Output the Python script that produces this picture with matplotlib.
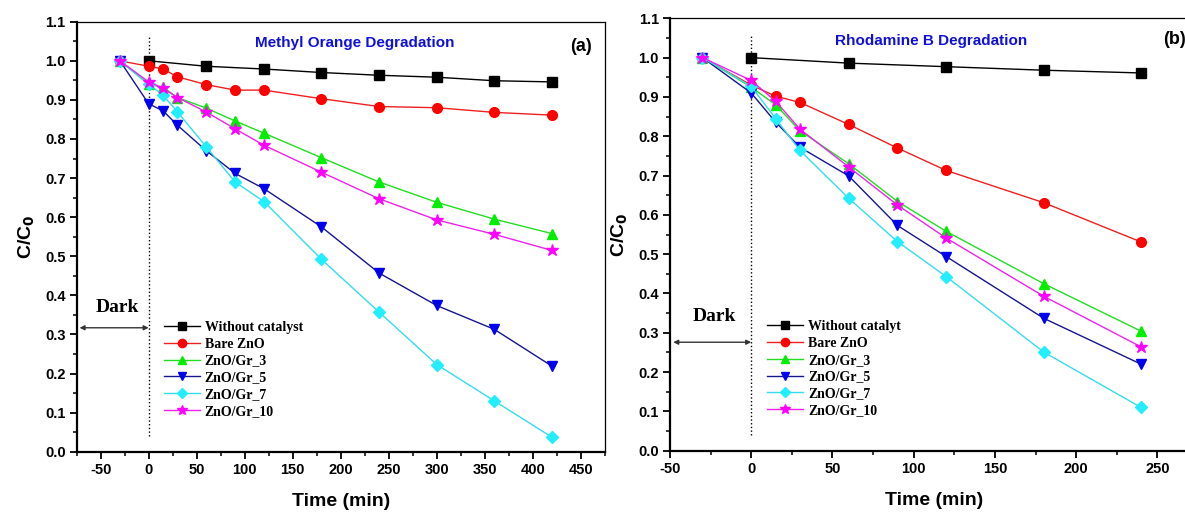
import matplotlib
matplotlib.use("Agg")
import matplotlib.pyplot as plt
from matplotlib.ticker import MultipleLocator

plt.rcParams["axes.unicode_minus"] = False

# ---- data: Methyl Orange (a) ----
t_mo = [-30, 0, 15, 30, 60, 90, 120, 180, 240, 300, 360, 420]
t_mo_blank = [0, 60, 120, 180, 240, 300, 360, 420]
mo_blank = [1.0, 0.986, 0.979, 0.970, 0.963, 0.958, 0.949, 0.946]
mo_zno = [1.0, 0.986, 0.979, 0.959, 0.939, 0.925, 0.925, 0.903, 0.883, 0.880, 0.868, 0.861]
mo_gr3 = [1.0, 0.940, 0.932, 0.906, 0.879, 0.846, 0.815, 0.752, 0.690, 0.638, 0.595, 0.558]
mo_gr5 = [1.0, 0.890, 0.872, 0.835, 0.770, 0.712, 0.673, 0.575, 0.457, 0.374, 0.313, 0.219]
mo_gr7 = [1.0, 0.940, 0.912, 0.869, 0.780, 0.690, 0.640, 0.492, 0.357, 0.223, 0.130, 0.037]
mo_gr10 = [1.0, 0.946, 0.930, 0.906, 0.869, 0.826, 0.784, 0.715, 0.647, 0.593, 0.556, 0.515]

# ---- data: Rhodamine B (b) ----
t_rb = [-30, 0, 15, 30, 60, 90, 120, 180, 240]
t_rb_blank = [0, 60, 120, 180, 240]
rb_blank = [1.0, 0.986, 0.977, 0.968, 0.961]
rb_zno = [1.0, 0.930, 0.902, 0.886, 0.830, 0.770, 0.713, 0.631, 0.531]
rb_gr3 = [1.0, 0.925, 0.880, 0.814, 0.730, 0.634, 0.558, 0.425, 0.304]
rb_gr5 = [1.0, 0.910, 0.836, 0.772, 0.699, 0.573, 0.494, 0.337, 0.220]
rb_gr7 = [1.0, 0.927, 0.845, 0.764, 0.642, 0.532, 0.443, 0.251, 0.110]
rb_gr10 = [1.0, 0.942, 0.889, 0.818, 0.722, 0.625, 0.541, 0.393, 0.264]

labels = ["Bare ZnO", "ZnO/Gr_3", "ZnO/Gr_5", "ZnO/Gr_7", "ZnO/Gr_10"]
markers = ["o", "^", "v", "D", "*"]
mcolors = ["#ff0000", "#00ee00", "#0000ee", "#22eeff", "#ff00ff"]
lcolors = ["#ee2020", "#22dd22", "#151590", "#33ddee", "#ee22ee"]
msizes = [7, 7.5, 7.5, 6, 9]

SANS = "Liberation Sans"
SERIF = "Liberation Serif"

fig = plt.figure(figsize=(11.85, 5.12), dpi=100)
axA = fig.add_axes([0.0647, 0.1178, 0.4456, 0.8398])
axB = fig.add_axes([0.5654, 0.1197, 0.4456, 0.8445])


def draw(ax, t, tb, blank, series, blank_label, xlim, title, tag,
         title_pos, tag_pos, leg_pos, dark_x, dark_y, arrow_x0, arrow_y):
    ax.plot(tb, blank, color="black", lw=1.0, marker="s", ms=6.5,
            label=blank_label, zorder=3)
    for y, lab, m, mc, lc, ms in zip(series, labels, markers, mcolors, lcolors, msizes):
        ax.plot(t, y, color=lc, lw=1.0, marker=m, ms=ms, mfc=mc, mec=mc,
                label=lab, zorder=3)
    ax.set_xlim(*xlim)
    ax.set_ylim(0, 1.1)
    ax.xaxis.set_major_locator(MultipleLocator(50))
    ax.xaxis.set_minor_locator(MultipleLocator(25))
    ax.yaxis.set_major_locator(MultipleLocator(0.1))
    ax.yaxis.set_minor_locator(MultipleLocator(0.05))
    ax.yaxis.set_major_formatter(plt.FormatStrFormatter("%.1f"))
    ax.tick_params(which="major", direction="out", length=5, width=1.3,
                   labelsize=10.5, pad=3, top=False, right=False)
    ax.tick_params(which="minor", direction="out", length=3, width=1.1,
                   top=False, right=False)
    for lb in ax.get_xticklabels() + ax.get_yticklabels():
        lb.set_fontweight("bold")
        lb.set_fontfamily(SANS)
    for s in ["left", "bottom"]:
        ax.spines[s].set_linewidth(1.6)
    for s in ["top", "right"]:
        ax.spines[s].set_linewidth(0.9)
    ax.set_xlabel("Time (min)", fontsize=14, fontweight="bold", family=SANS, labelpad=12)
    ax.set_ylabel("C/C$_\\mathbf{0}$", fontsize=14, fontweight="bold", family=SANS, labelpad=6)

    ax.plot([0, 0], [0.04, 1.06], color="black", lw=1.0, ls=":", zorder=1)
    ax.annotate("", xy=(0, arrow_y), xytext=(arrow_x0, arrow_y),
                arrowprops=dict(arrowstyle="<|-|>", color="#333333", lw=1.0,
                                mutation_scale=7, shrinkA=0, shrinkB=0))
    ax.text(dark_x, dark_y, "Dark", fontsize=14, fontweight="bold", family=SERIF,
            ha="center", va="center")

    ax.text(title_pos[0], title_pos[1], title, transform=ax.transAxes, color="#1010dd",
            fontsize=11, fontweight="bold", family=SANS, ha="center", va="center")
    ax.text(tag_pos[0], tag_pos[1], tag, transform=ax.transAxes, color="black",
            fontsize=13, fontweight="bold", family=SANS, ha="center", va="center")

    ax.legend(loc="upper left", bbox_to_anchor=leg_pos, frameon=False,
              prop={"family": SERIF, "weight": "bold", "size": 10},
              borderpad=0, borderaxespad=0, handlelength=2.6, handletextpad=0.35,
              labelspacing=0.27, markerscale=0.85)


draw(axA, t_mo, t_mo_blank, mo_blank, [mo_zno, mo_gr3, mo_gr5, mo_gr7, mo_gr10],
     "Without catalyst", (-75, 475), "Methyl Orange Degradation", "(a)",
     (0.527, 0.951), (0.956, 0.943), (0.165, 0.304), -33, 0.37, -72, 0.317)
draw(axB, t_rb, t_rb_blank, rb_blank, [rb_zno, rb_gr3, rb_gr5, rb_gr7, rb_gr10],
     "Without catalyt", (-50, 275), "Rhodamine B Degradation", "(b)",
     (0.494, 0.947), (0.956, 0.95), (0.184, 0.302), -23, 0.342, -48, 0.276)

fig.savefig("out.png", dpi=100)
